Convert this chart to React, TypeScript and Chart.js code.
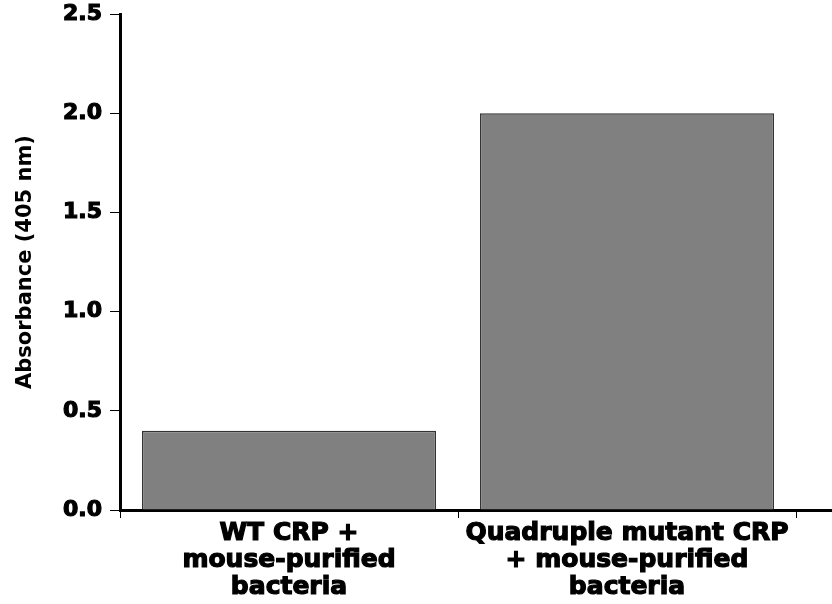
import React, { useEffect, useRef } from "react";
import { Chart, registerables } from "chart.js";

Chart.register(...registerables);

const categories: string[][] = [
  ["WT CRP +", "mouse-purified", "bacteria"],
  ["Quadruple mutant CRP", "+ mouse-purified", "bacteria"],
];
const absorbance: number[] = [0.4, 2.0];
const yMin = 0;
const yMax = 2.5;
const yStep = 0.5;
const yTitle = "Absorbance (405 nm)";

const FONT = "'DejaVu Sans', 'Liberation Sans', Arial, sans-serif";

const axisExtension = {
  id: "axisExtension",
  afterDraw(chart: any) {
    const { ctx, chartArea } = chart;
    ctx.save();
    ctx.strokeStyle = "#000";
    ctx.lineWidth = 3;
    ctx.beginPath();
    ctx.moveTo(chartArea.right - 1, chartArea.bottom + 0.5);
    ctx.lineTo(chart.width, chartArea.bottom + 0.5);
    ctx.stroke();
    ctx.restore();
  },
};

export default function App() {
  const ref = useRef<HTMLCanvasElement | null>(null);
  useEffect(() => {
    if (!ref.current) return;
    const chart = new Chart(ref.current, {
      type: "bar",
      data: {
        labels: categories,
        datasets: [
          {
            data: absorbance,
            backgroundColor: "#808080",
            borderColor: "#333333",
            borderWidth: 1.5,
            barPercentage: 0.87,
            categoryPercentage: 1,
          },
        ],
      },
      options: {
        animation: false,
        responsive: true,
        maintainAspectRatio: false,
        layout: { padding: { top: 14, right: 36, bottom: 0, left: 0 } },
        plugins: { legend: { display: false }, tooltip: { enabled: false } },
        scales: {
          x: {
            offset: true,
            grid: {
              offset: true,
              drawOnChartArea: false,
              color: "#000",
              lineWidth: 1,
              tickLength: 8,
            },
            border: { display: true, color: "#000", width: 3 },
            ticks: {
              color: "#000",
              textStrokeColor: "#000",
              textStrokeWidth: 1.2,
              font: { family: FONT, size: 25, weight: "bold", lineHeight: 1.08 },
              padding: 2,
              maxRotation: 0,
              autoSkip: false,
            },
            afterFit: (scale: any) => {
              scale.height = 94;
              scale.paddingLeft = 0;
              scale.paddingRight = 0;
            },
          },
          y: {
            min: yMin,
            max: yMax,
            grid: {
              drawOnChartArea: false,
              color: "#000",
              lineWidth: 1,
              tickLength: 10,
            },
            border: { display: true, color: "#000", width: 3 },
            ticks: {
              stepSize: yStep,
              color: "#000",
              textStrokeColor: "#000",
              textStrokeWidth: 1.2,
              font: { family: FONT, size: 22, weight: "bold" },
              padding: 8,
              callback: (v: any) => Number(v).toFixed(1),
            },
            title: {
              display: true,
              text: yTitle,
              color: "#000",
              font: { family: FONT, size: 21, weight: "bold", lineHeight: 1.2 },
              padding: { top: 13, bottom: 0 },
            },
            afterFit: (scale: any) => {
              scale.width = 120;
              scale.paddingTop = 0;
              scale.paddingBottom = 0;
            },
          },
        },
      },
      plugins: [axisExtension],
    });
    return () => chart.destroy();
  }, []);
  return (
    <div style={{ position: "fixed", left: 0, top: 0, width: 832, height: 604, background: "#fff" }}>
      <canvas ref={ref} />
    </div>
  );
}
